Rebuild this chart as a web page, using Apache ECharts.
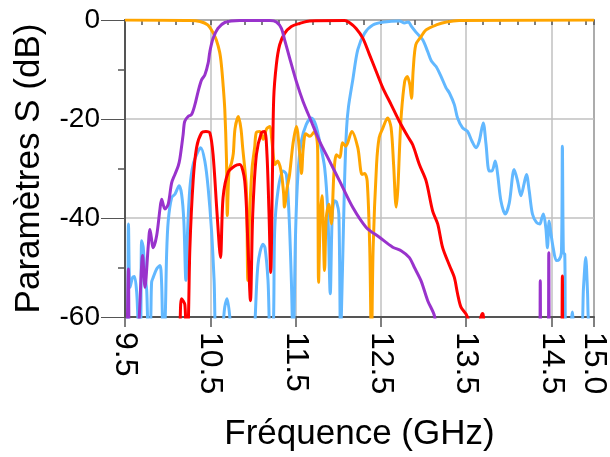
<!DOCTYPE html>
<html>
<head>
<meta charset="utf-8">
<script src="https://cdn.jsdelivr.net/npm/echarts@6/dist/echarts.min.js"></script>
<style>html,body{margin:0;padding:0;background:#fff;}#c{width:610px;height:457px;}</style>
</head>
<body>
<div id="c"></div>
<script>
// Axis settings
const xMin = 9.5, xMax = 15.0, xStep = 1, xMinorStep = 0.2;
const yMin = -60, yMax = 0, yStep = 20;
const xTitle = 'Fréquence (GHz)';
const yTitle = 'Paramètres S (dB)';

// Orange trace [GHz, dB]
const orange = [
[9.5,0],[10.26,-0.1],[10.38,-0.3],[10.47,-1],[10.53,-2.5],[10.57,-4],[10.61,-6.5],[10.63,-9],[10.65,-13],[10.67,-18],[10.69,-28],[10.70,-39.5],
[10.72,-30.5],[10.75,-28.8],[10.77,-27],[10.79,-22],[10.83,-19.5],[10.86,-22],[10.88,-25.8],[10.92,-33],[10.93,-40],[10.94,-52.6],[10.96,-40],[10.99,-30],
[11.02,-25.8],[11.04,-22.7],[11.08,-22.5],[11.12,-24.1],[11.16,-22],[11.20,-21.5],[11.22,-24],[11.26,-29.2],[11.29,-28.5],[11.33,-30.5],[11.36,-35],[11.37,-37.8],
[11.40,-34],[11.43,-31.2],[11.47,-25],[11.51,-21.5],[11.55,-27.2],[11.57,-31],[11.59,-26],[11.62,-23],[11.67,-23.5],[11.72,-22.6],[11.75,-24],[11.76,-27],
[11.77,-53],[11.79,-40],[11.81,-35.5],[11.84,-50.6],[11.86,-40],[11.89,-37.2],[11.92,-41.2],[11.95,-31],[11.98,-27.2],[12.02,-27.8],[12.05,-24.8],[12.09,-25.5],
[12.16,-22.5],[12.23,-25.8],[12.28,-31.2],[12.31,-31],[12.34,-32.5],[12.37,-45.9],[12.39,-66],[12.41,-46],[12.45,-29.2],[12.48,-23.8],[12.52,-22],[12.58,-19.8],
[12.62,-21.7],[12.65,-29.2],[12.68,-37.8],[12.70,-34],[12.72,-25.8],[12.74,-19.1],[12.78,-12.4],[12.81,-11.4],[12.84,-13],[12.86,-15.8],[12.88,-10],[12.91,-5],
[12.97,-3.4],[13.03,-2],[13.15,-1],[13.27,-0.4],[13.42,-0.1],[15.0,0]
];

// Purple trace [GHz, dB]
const purple = [
[9.5,-72],[9.52,-68],[9.54,-50.3],[9.56,-70],[9.63,-70],[9.667,-60],[9.707,-47.6],[9.734,-54],[9.773,-45.6],[9.793,-42.3],[9.831,-46],[9.871,-43.6],
[9.91,-38.2],[9.93,-36.2],[9.968,-38.2],[10.007,-37.2],[10.047,-32.9],[10.085,-31.2],[10.124,-29.5],[10.144,-28],[10.182,-23.1],[10.2,-20.5],[10.24,-19.5],
[10.28,-19.1],[10.32,-17.1],[10.358,-14.4],[10.398,-12.1],[10.436,-11.1],[10.475,-8.7],[10.495,-6.4],[10.533,-3.7],[10.59,-1.7],[10.67,-0.5],[10.846,-0.1],
[11.2,-0.1],[11.275,-0.4],[11.334,-1.7],[11.372,-4],[11.431,-7.7],[11.509,-12.4],[11.587,-16.4],[11.685,-20.5],[11.782,-24.5],[11.899,-28.5],[12.016,-32.5],
[12.172,-37.9],[12.329,-41.9],[12.484,-43.9],[12.64,-45.9],[12.738,-46.6],[12.835,-48],[12.894,-50],[12.972,-52.7],[13.05,-56.7],[13.128,-59.7],[13.2,-66],
[14.3,-70],[14.36,-70],[14.37,-52.7],[14.38,-70],[14.46,-70],[14.47,-47],[14.48,-70],[15.0,-75]
];

// Red trace [GHz, dB]
const red = [
[9.5,-75],[10.1,-70],[10.164,-56.3],[10.202,-57.5],[10.222,-66],[10.241,-62],[10.261,-46],[10.299,-32.5],[10.339,-25.8],[10.398,-22.8],[10.449,-22.5],
[10.495,-22.8],[10.533,-27.2],[10.58,-39.2],[10.62,-48],[10.65,-35.9],[10.709,-30.8],[10.787,-29.5],[10.846,-29.2],[10.904,-32.5],[10.943,-46],[10.971,-56.7],
[10.998,-39.2],[11.041,-27.2],[11.1,-22.8],[11.138,-22.5],[11.165,-27.2],[11.189,-39.2],[11.209,-51],[11.228,-32.5],[11.244,-15.8],[11.275,-9],[11.314,-5],
[11.372,-2.7],[11.451,-1.3],[11.548,-0.7],[11.665,-0.2],[12.075,-0.1],[12.13,-0.5],[12.21,-1.7],[12.29,-3.7],[12.367,-7],[12.446,-10.4],[12.523,-13.7],
[12.621,-17.1],[12.718,-20.5],[12.815,-23.5],[12.874,-25.2],[12.952,-29.2],[13.031,-32.5],[13.108,-38.6],[13.167,-41.2],[13.225,-46],[13.303,-49.5],
[13.362,-52],[13.4,-55.3],[13.44,-58],[13.499,-59.4],[13.537,-61],[13.6,-64],[13.693,-59.3],[13.75,-64],[14.6,-70],[14.618,-70],[14.629,-51.7],[14.64,-70],[15.0,-75]
];

// Light blue trace [GHz, dB]
const blue = [
[9.5,-72],[9.529,-66],[9.541,-41.2],[9.559,-54],[9.59,-52],[9.611,-51.8],[9.637,-55],[9.658,-62],[9.681,-64],[9.695,-44.6],[9.714,-46],[9.734,-51.6],
[9.754,-54.5],[9.775,-63],[9.798,-62],[9.812,-53],[9.831,-52],[9.871,-50.3],[9.91,-49.6],[9.929,-53],[9.948,-64],[9.968,-62],[9.988,-47.3],[10.007,-40.6],
[10.047,-35.9],[10.085,-35.2],[10.135,-33.5],[10.164,-35.2],[10.19,-40.6],[10.214,-52.6],[10.234,-42.6],[10.261,-33.9],[10.299,-29.2],[10.358,-26.5],
[10.389,-25.8],[10.436,-28.5],[10.475,-33.9],[10.515,-42.6],[10.545,-52.6],[10.573,-64],[10.635,-63],[10.67,-58],[10.697,-56.3],[10.729,-60],[10.752,-66],
[10.998,-66],[11.021,-62],[11.06,-49.3],[11.118,-45.3],[11.142,-46],[11.177,-52.6],[11.205,-64],[11.238,-63],[11.255,-42.6],[11.294,-34.5],[11.353,-30.5],
[11.392,-31.2],[11.423,-39.2],[11.451,-52.6],[11.472,-66],[11.501,-42.6],[11.528,-31.2],[11.568,-24.5],[11.626,-21.1],[11.685,-19.8],[11.735,-21.1],
[11.782,-24.5],[11.841,-29.8],[11.879,-39.2],[11.907,-55.3],[11.931,-39.2],[11.958,-36.5],[11.981,-36.8],[12.008,-39.2],[12.028,-64],[12.051,-50],
[12.075,-32.5],[12.098,-22],[12.121,-17.5],[12.172,-12],[12.23,-6],[12.309,-2.7],[12.406,-1],[12.543,-0.4],[12.718,-0.2],[12.777,-0.6],[12.823,-0.4],
[12.859,-1.3],[12.914,-2.5],[12.991,-4],[13.05,-6.4],[13.093,-8.3],[13.148,-9.4],[13.206,-11.4],[13.265,-13.7],[13.303,-14.7],[13.362,-17.1],[13.4,-19.8],
[13.459,-21.8],[13.517,-22.5],[13.569,-24.5],[13.616,-25.8],[13.654,-24.5],[13.701,-20.8],[13.733,-25],[13.771,-30.5],[13.803,-30.5],[13.842,-28.5],
[13.869,-31],[13.908,-36.5],[13.959,-39.2],[14.006,-37],[14.064,-30.2],[14.103,-32.5],[14.143,-35.5],[14.181,-33],[14.208,-31.2],[14.24,-34.5],[14.278,-39.2],
[14.325,-40.9],[14.365,-41.2],[14.388,-40],[14.407,-39.2],[14.435,-42],[14.454,-46],[14.474,-40.6],[14.494,-43],[14.521,-46],[14.559,-48.6],[14.591,-48.4],
[14.618,-47],[14.629,-25.5],[14.641,-47],[14.657,-47.3],[14.669,-62],[14.72,-62],[14.746,-59],[14.772,-62],[14.848,-62],[14.877,-54],[14.903,-48],
[14.924,-55],[14.941,-62],[15.0,-65]
];

const FONT = 'Liberation Sans, Arial, sans-serif';
const chart = echarts.init(document.getElementById('c'), null, {renderer: 'canvas'});
function line(name, data, color) {
  return {
    name, type: 'line', data, showSymbol: false, symbol: 'none', smooth: 0.3,
    clip: true, lineStyle: {color, width: 3}, itemStyle: {color}
  };
}
chart.setOption({
  animation: false,
  backgroundColor: '#fff',
  grid: {left: 125, right: 15, top: 20, bottom: 139, show: true, borderColor: '#444', borderWidth: 1.5, backgroundColor: 'transparent'},
  xAxis: [{
    type: 'value', min: xMin, max: xMax, interval: xStep,
    name: xTitle, nameLocation: 'middle', nameGap: 100,
    nameTextStyle: {fontSize: 35, color: '#000', fontFamily: FONT},
    axisLine: {show: true, onZero: false, lineStyle: {color: '#555', width: 2}},
    axisTick: {show: true, length: 10, lineStyle: {color: '#555', width: 1.5}},
    axisLabel: {rotate: -90, fontSize: 32, color: '#000', fontFamily: FONT, margin: 15,
      formatter: v => v.toFixed(1), showMinLabel: true, showMaxLabel: true},
    splitLine: {show: true, lineStyle: {color: '#c0c0c0', width: 1.5}}
  }, {
    type: 'value', min: xMin, max: xMax, interval: xMinorStep, position: 'bottom',
    axisLine: {show: false}, axisLabel: {show: false}, splitLine: {show: false},
    axisTick: {show: true, length: 5, lineStyle: {color: '#555', width: 1.5}}
  }],
  yAxis: {
    type: 'value', min: yMin, max: yMax, interval: yStep,
    name: yTitle, nameLocation: 'middle', nameGap: 78,
    nameTextStyle: {fontSize: 35, color: '#000', fontFamily: FONT},
    axisLine: {show: true, onZero: false, lineStyle: {color: '#555', width: 2}},
    axisTick: {show: true, length: 24, lineStyle: {color: '#555', width: 1}},
    minorTick: {show: true, splitNumber: 2, length: 7, lineStyle: {color: '#555', width: 1.5}},
    axisLabel: {fontSize: 28, color: '#000', fontFamily: FONT, margin: 25},
    splitLine: {show: true, lineStyle: {color: '#c0c0c0', width: 1.5}}
  },
  series: [
    line('S41', blue, '#62B8FF'),
    line('S11', orange, '#FFA500'),
    line('S31', red, '#FF0000'),
    line('S21', purple, '#9933CC')
  ]
});
</script>
</body>
</html>
